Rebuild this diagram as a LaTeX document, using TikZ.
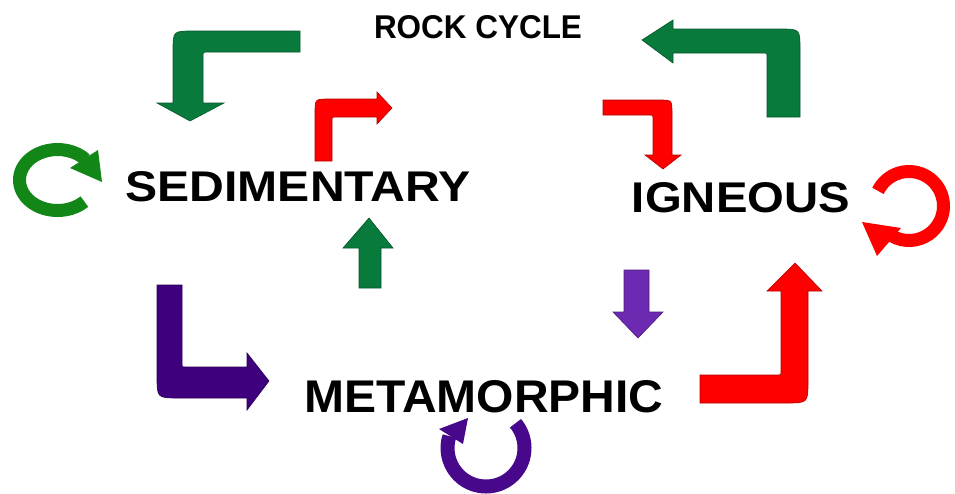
\documentclass[tikz,border=0pt]{standalone}
\usepackage{fontspec}
\setmainfont{Liberation Sans}
\usepackage{graphicx}
\usetikzlibrary{calc}
\definecolor{dgreen}{RGB}{8,122,60}
\definecolor{cgreen}{RGB}{18,135,24}
\definecolor{rred}{RGB}{255,0,0}
\definecolor{dpurple}{RGB}{62,0,124}
\definecolor{lpurple}{RGB}{108,42,178}
\definecolor{cpurple}{RGB}{72,8,140}
\tikzset{
  bent/.style={fill=#1, draw=#1!70!black, line width=0.6pt, line join=miter},
  ring/.style={draw=#1, line width=13pt, line cap=butt},
  ringhead/.style={fill=#1, draw=none},
  label/.style={inner sep=0pt, anchor=center}
}
\begin{document}
\begin{tikzpicture}[x=1pt,y=-1pt]
\useasboundingbox (0,0) rectangle (955,493);
\fill[white] (0,0) rectangle (955,493);

% texts
\node[label] (title) at (478,27) {\resizebox{208pt}{23pt}{\bfseries ROCK CYCLE}};
\node[label] (sed) at (298,187) {\resizebox{345pt}{30pt}{\bfseries SEDIMENTARY}};
\node[label] (ign) at (741,198) {\resizebox{218pt}{30pt}{\bfseries IGNEOUS}};
\node[label] (met) at (484,397) {\resizebox{359pt}{32pt}{\bfseries METAMORPHIC}};

% green bent arrow top-left
\path[bent=dgreen] (300,31) -- (193,31) .. controls (173,31) .. (173,51) -- (173,103)
  -- (157,103) -- (190,121) -- (224,103) -- (203,103) -- (203,57)
  .. controls (203,52) .. (208,52) -- (300,52) -- cycle;

% red small bent arrow (left)
\path[bent=rred] (315,161) -- (315,113) .. controls (315,99) .. (329,99) -- (377,99)
  -- (377,92) -- (392,108) -- (377,124) -- (377,117) -- (335,117)
  .. controls (332,117) .. (332,120) -- (332,161) -- cycle;

% red small bent arrow (right)
\path[bent=rred] (603,100) -- (659,100) .. controls (672,100) .. (672,113) -- (672,155)
  -- (681,155) -- (663,169) -- (645,155) -- (653,155) -- (653,118)
  .. controls (653,115) .. (650,115) -- (603,115) -- cycle;

% green bent arrow top-right
\path[bent=dgreen] (800,117) -- (800,49) .. controls (800,29) .. (780,29) -- (673,29)
  -- (673,20) -- (642,40) -- (673,63) -- (673,53) -- (763,53)
  .. controls (767,53) .. (767,57) -- (767,117) -- cycle;

% purple L arrow
\path[bent=dpurple] (157,285) -- (182,285) -- (182,363) .. controls (182,367) .. (186,367)
  -- (247,367) -- (247,353) -- (269,381) -- (247,410) -- (247,398) -- (179,398)
  .. controls (157,398) .. (157,376) -- cycle;

% red J arrow
\path[bent=rred] (700,375) -- (777,375) .. controls (781,375) .. (781,371) -- (781,291)
  -- (767,291) -- (795,263) -- (822,291) -- (808,291) -- (808,381)
  .. controls (808,403) .. (786,403) -- (700,403) -- cycle;

% green up arrow
\path[bent=dgreen] (359,288) -- (359,248) -- (343,248) -- (369,218) -- (393,248)
  -- (381,248) -- (381,288) -- cycle;

% purple down arrow
\path[bent=lpurple] (624,270) -- (649,270) -- (649,312) -- (663,312) -- (638,338)
  -- (613,312) -- (624,312) -- cycle;

% green circular arrow
\coordinate (gc) at (57.5,180);
\draw[ring=cgreen] ($(gc)+(45:38 and 30.5)$) arc[start angle=45, end angle=318, x radius=38, y radius=30.5];
\path[ringhead=cgreen] (70,168) -- (98,150) -- (102,182) -- cycle;

% red circular arrow
\coordinate (rc) at (909,206);
\draw[ring=rred] ($(rc)+(206:34.5)$) arc[start angle=206, end angle=480, radius=34.5];
\path[ringhead=rred] (862,222) -- (901,228) -- (877,256) -- cycle;

% purple circular arrow
\coordinate (pc) at (486,448);
\draw[ring=cpurple, line width=14pt] ($(pc)+(320:38.5)$) arc[start angle=320, end angle=558, radius=38.5];
\path[ringhead=cpurple] (439,429) -- (468,418) -- (463,444) -- cycle;
\end{tikzpicture}
\end{document}
